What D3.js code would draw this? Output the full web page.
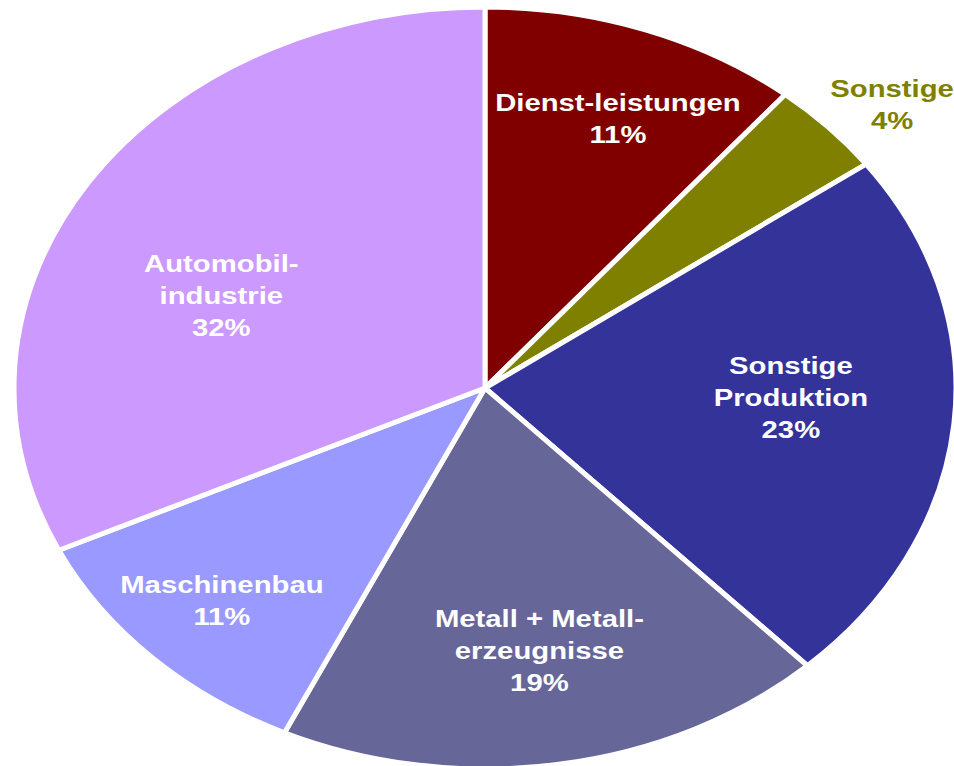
<!DOCTYPE html>
<html>
<head>
<meta charset="utf-8">
<script src="https://cdn.jsdelivr.net/npm/d3@7"></script>
<style>
  html, body { margin: 0; padding: 0; background: #fff; }
  svg { display: block; }
</style>
</head>
<body>
<svg id="chart" width="954" height="766"></svg>
<script>
// data
const categories = ['Dienst-leistungen', 'Sonstige', 'Sonstige Produktion', 'Metall + Metall-erzeugnisse', 'Maschinenbau', 'Automobil-industrie']
const labelLines = [['Dienst-leistungen'], ['Sonstige'], ['Sonstige', 'Produktion'], ['Metall + Metall-', 'erzeugnisse'], ['Maschinenbau'], ['Automobil-', 'industrie']]
const shares = [11, 4, 23, 19, 11, 32]

// layout
const colors = ['#800000', '#808000', '#333399', '#666699', '#9999ff', '#cc99ff']
const labelColors = ['#fff', '#808000', '#fff', '#fff', '#fff', '#fff']
// label anchor: angle shift (deg) from slice middle, radius as fraction of pie radius
const labelAngleShift = [2, 2.5, -3, -0.5, 0, -9]
const labelRadius = [0.76, 1.14, 0.65, 0.70, 0.79, 0.61]

const width = 954, height = 766
const cx = 485, cy = 388, rx = 471, ry = 381
const sx = rx / ry
const lineH = 32

const svg = d3.select('#chart')

const pie = d3.pie().sort(null).value(d => d)
const arcs = pie(shares)
const arc = d3.arc().innerRadius(0).outerRadius(ry)

let pieGroup = svg.append('g')
  .attr('transform', `translate(${cx},${cy}) scale(${sx},1)`)

pieGroup.selectAll('path.slice')
  .data(arcs)
  .enter().append('path')
  .attr('class', 'slice')
  .attr('d', arc)
  .attr('fill', (d, i) => colors[i])
  .attr('stroke', '#fff')
  .attr('stroke-width', 5)
  .attr('stroke-linejoin', 'round')
  .attr('vector-effect', 'non-scaling-stroke')

// labels, placed in circle space then stretched like the pie
let labels = svg.append('g').attr('class', 'labels')
arcs.forEach((d, i) => {
  const mid = (d.startAngle + d.endAngle) / 2 + labelAngleShift[i] * Math.PI / 180
  const r = labelRadius[i] * ry
  const x = cx + Math.sin(mid) * r * sx
  const y = cy - Math.cos(mid) * r
  const lines = labelLines[i].concat([shares[i] + '%'])
  const top = y - (lines.length - 1) * lineH / 2
  let t = labels.append('text')
    .attr('transform', `translate(${x},${top}) scale(1.22,1)`)
    .attr('text-anchor', 'middle')
    .attr('dominant-baseline', 'central')
    .attr('font-family', '"Liberation Sans", Arial, sans-serif')
    .attr('font-weight', 'bold')
    .attr('font-size', 24)
    .attr('fill', labelColors[i])
  lines.forEach((l, j) => {
    t.append('tspan').attr('x', 0).attr('y', j * lineH).text(l)
  })
})
</script>
</body>
</html>
